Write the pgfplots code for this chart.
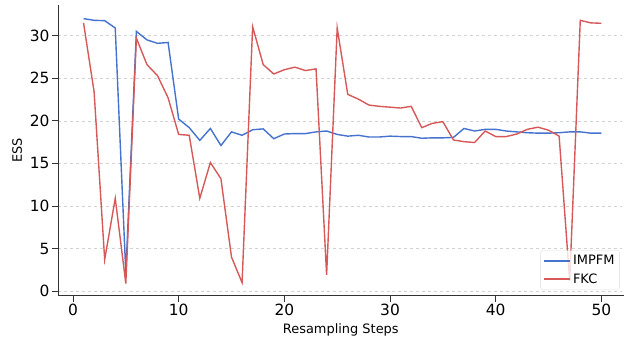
\documentclass[border=0pt]{standalone}
\usepackage{pgfplots}
\pgfplotsset{compat=1.18}
\usepackage{fontspec}
\setmainfont{DejaVu Sans}
\definecolor{cblue}{RGB}{68,114,206}
\definecolor{cred}{RGB}{214,88,88}
\begin{document}
\begin{tikzpicture}
\begin{axis}[
  scale only axis,
  width=566bp, height=291bp,
  xmin=-1.42, xmax=52.1,
  ymin=-0.55, ymax=33.6,
  axis x line*=bottom, axis y line*=left,
  axis line style={black!80, line width=0.8pt},
  xtick={0,10,20,30,40,50},
  ytick={0,5,10,15,20,25,30},
  tick align=outside,
  major tick length=6bp,
  tick style={black!80, line width=0.8pt},
  ymajorgrids,
  grid style={dashed, gray!35, line width=0.6pt},
  /pgf/number format/assume math mode=true,
  ticklabel style={font=\fontsize{15.5}{17}\selectfont},
  yticklabel style={xshift=1bp},
  xticklabel style={yshift=1bp},
  xlabel={Resampling Steps},
  ylabel={ESS},
  every axis x label/.style={at={(axis description cs:0.5,-0.117)}, anchor=center, font=\fontsize{13}{15}\selectfont},
  every axis y label/.style={at={(axis description cs:-0.072,0.5)}, anchor=center, rotate=90, font=\fontsize{13}{15}\selectfont},
  legend style={at={(0.993,0.021)}, anchor=south east, font=\fontsize{13}{15}\selectfont,
     draw=gray!25, rounded corners=2bp, fill=white, fill opacity=0.8, text opacity=1,
     row sep=3bp, inner sep=3bp},
  legend cell align=left,
  legend image code/.code={\draw[#1] (0bp,0bp) -- (26bp,0bp);},
]
\addplot[cblue, line width=1.4pt] coordinates {
(1,32.0)(2,31.8)(3,31.76)(4,30.9)(5,2.1)(6,30.5)(7,29.5)(8,29.1)(9,29.2)(10,20.2)
(11,19.2)(12,17.7)(13,19.1)(14,17.1)(15,18.7)(16,18.3)(17,18.95)(18,19.05)(19,17.9)(20,18.45)
(21,18.5)(22,18.5)(23,18.7)(24,18.8)(25,18.4)(26,18.2)(27,18.3)(28,18.1)(29,18.1)(30,18.2)
(31,18.15)(32,18.15)(33,17.95)(34,18.0)(35,18.0)(36,18.05)(37,19.1)(38,18.8)(39,19.0)(40,19.0)
(41,18.8)(42,18.7)(43,18.6)(44,18.55)(45,18.55)(46,18.6)(47,18.7)(48,18.7)(49,18.55)(50,18.55)
};
\addlegendentry{IMPFM}
\addplot[cred, line width=1.4pt] coordinates {
(1,31.5)(2,23.4)(3,3.7)(4,10.9)(5,0.9)(6,29.7)(7,26.6)(8,25.3)(9,22.7)(10,18.4)
(11,18.3)(12,10.9)(13,15.1)(14,13.2)(15,4.0)(16,1.0)(17,31.05)(18,26.6)(19,25.5)(20,26.0)
(21,26.3)(22,25.9)(23,26.1)(24,1.9)(25,30.9)(26,23.1)(27,22.55)(28,21.85)(29,21.7)(30,21.6)
(31,21.5)(32,21.7)(33,19.2)(34,19.7)(35,19.9)(36,17.75)(37,17.55)(38,17.45)(39,18.8)(40,18.15)
(41,18.15)(42,18.45)(43,19.0)(44,19.25)(45,18.9)(46,18.2)(47,1.2)(48,31.8)(49,31.5)(50,31.45)
};
\addlegendentry{FKC}
\end{axis}
\path (current axis.south west) ++(-58bp,-45bp);
\path (current axis.north east) ++(0bp,5bp);
\end{tikzpicture}
\end{document}
